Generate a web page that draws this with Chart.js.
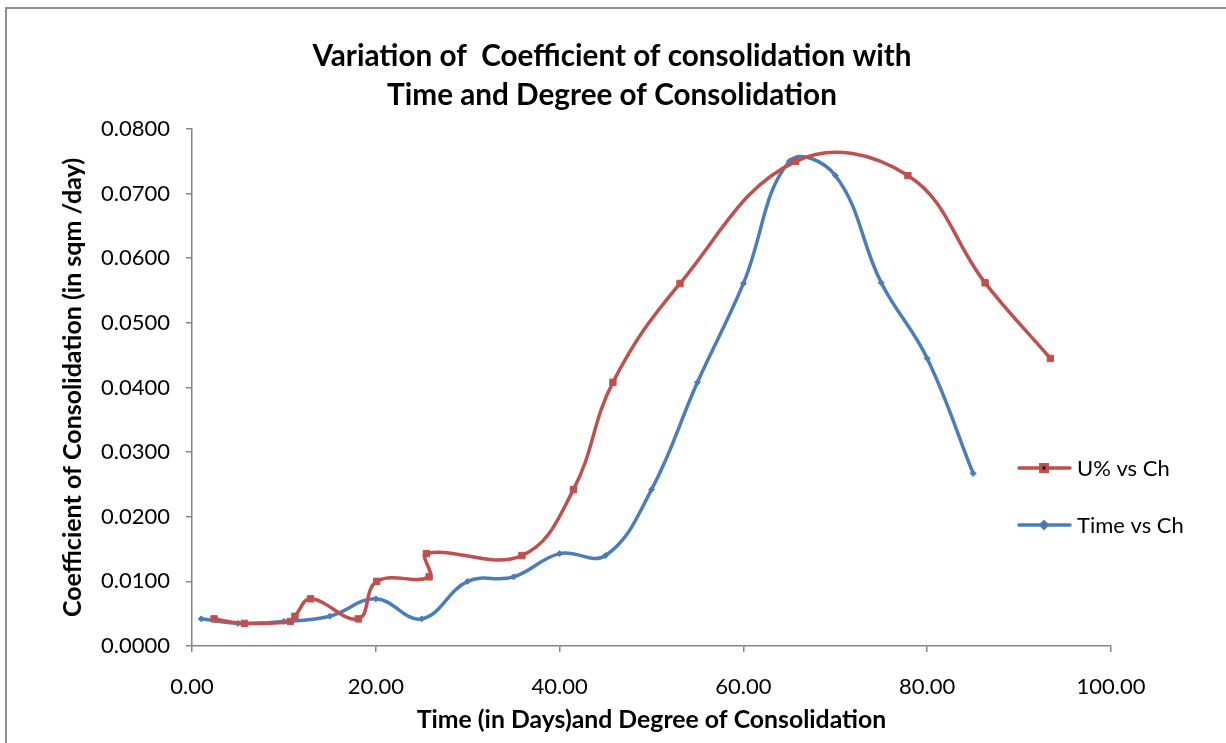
<!DOCTYPE html>
<html>
<head>
<meta charset="utf-8">
<script src="https://cdn.jsdelivr.net/npm/chart.js@4.4.1/dist/chart.umd.min.js"></script>
<style>
  html, body { margin: 0; padding: 0; background: #fff; overflow: hidden; }
  #wrap { position: relative; width: 1226px; height: 743px; }
  #frame { position: absolute; left: 5px; top: 7px; width: 1300px; height: 900px;
           border: 2px solid #8e8e8e; pointer-events: none; }
</style>
</head>
<body>
<div id="wrap">
  <canvas id="myChart" width="1226" height="743"></canvas>
  <div id="frame"></div>
</div>
<script>
// Time (days) for the blue series
let timeDays = [1, 5, 10, 15, 20, 25, 30, 35, 40, 45, 50, 55, 60, 65, 70, 75, 80, 85];

// Degree of consolidation U% for the red series
let uPercent = [2.4, 5.7, 10.7, 11.2, 12.9, 18.1, 20.1, 25.8, 25.5, 35.9, 41.5, 45.8, 53.1, 65.7, 77.9, 86.3, 93.4];

// Coefficient of consolidation Ch (sqm/day)
let chValues = [0.0042, 0.0035, 0.0038, 0.0046, 0.0073, 0.0042, 0.0100, 0.0107, 0.0143, 0.0140,
                0.0242, 0.0408, 0.0561, 0.0750, 0.0728, 0.0562, 0.0445, 0.0267];

let seriesNames = ['U% vs Ch', 'Time vs Ch'];

const RED = 'rgb(192, 80, 77)';
const BLUE = 'rgb(74, 126, 187)';
const AXIS = '#868686';
const FONT = 'Lato';

let redPoints = uPercent.map((u, i) => ({ x: u, y: chValues[i] }));
let bluePoints = timeDays.map((t, i) => ({ x: t, y: chValues[i] }));

// legend drawn like the excel one (line with a marker in the middle)
let sideLegend = {
    id: 'sideLegend',
    afterDraw(chart) {
        let ctx = chart.ctx;
        let rows = [468, 525];
        chart.data.datasets.forEach((ds, i) => {
            let y = rows[i];
            ctx.save();
            ctx.strokeStyle = ds.borderColor;
            ctx.lineWidth = ds.borderWidth;
            ctx.lineCap = 'round';
            ctx.beginPath();
            ctx.moveTo(1019, y);
            ctx.lineTo(1070, y);
            ctx.stroke();
            Chart.helpers.drawPoint(ctx, {
                pointStyle: ds.pointStyle,
                radius: ds.pointRadius,
                borderWidth: 1
            }, 1044, y);
            ctx.fillStyle = '#000';
            ctx.font = '22px ' + FONT;
            ctx.textBaseline = 'middle';
            ctx.fillText(ds.label, 1077, y + 1);
            ctx.restore();
        });
    }
};

let data = {
    datasets: [{
        label: seriesNames[0],
        data: redPoints,
        borderColor: RED,
        backgroundColor: RED,
        pointStyle: 'rect',
        pointRadius: 4.5,
        pointBorderWidth: 1,
        borderWidth: 3.5,
        tension: 0.4,
        showLine: true
    }, {
        label: seriesNames[1],
        data: bluePoints,
        borderColor: BLUE,
        backgroundColor: BLUE,
        pointStyle: 'rectRot',
        pointRadius: 3,
        pointBorderWidth: 1,
        borderWidth: 3.5,
        tension: 0.4,
        showLine: true
    }]
};

let config = {
    type: 'scatter',
    data: data,
    options: {
        responsive: false,
        animation: false,
        layout: { padding: { left: 61, right: 63, top: 0, bottom: 0 } },
        plugins: {
            legend: { display: false },
            tooltip: { enabled: false },
            title: {
                display: true,
                text: ['Variation of  Coefficient of consolidation with', 'Time and Degree of Consolidation'],
                color: '#000',
                font: { family: FONT, size: 29.7, weight: 'bold', lineHeight: 1.313 },
                padding: { top: 37, bottom: 14 }
            }
        },
        scales: {
            x: {
                type: 'linear',
                min: 0,
                max: 100,
                ticks: {
                    stepSize: 20,
                    color: '#000',
                    font: { family: FONT, size: 22 },
                    padding: 22,
                    callback: v => v.toFixed(2)
                },
                grid: { drawOnChartArea: false, tickLength: 6, color: AXIS, lineWidth: 1.5 },
                border: { color: AXIS, width: 1.5 },
                title: {
                    display: true,
                    text: 'Time (in Days)and Degree of Consolidation',
                    color: '#000',
                    font: { family: FONT, size: 24.8, weight: 'bold' },
                    padding: { top: 0, bottom: 8 }
                },
                afterFit: s => { s.height = 97; }
            },
            y: {
                type: 'linear',
                min: 0,
                max: 0.08,
                ticks: {
                    stepSize: 0.01,
                    color: '#000',
                    font: { family: FONT, size: 22 },
                    padding: 16,
                    callback: v => v.toFixed(4)
                },
                grid: { drawOnChartArea: false, tickLength: 6, color: AXIS, lineWidth: 1.5 },
                border: { color: AXIS, width: 1.5 },
                title: {
                    display: true,
                    text: 'Coefficient of Consolidation (in sqm /day)',
                    color: '#000',
                    font: { family: FONT, size: 25, weight: 'bold' },
                    padding: { top: -3, bottom: 0 }
                },
                afterFit: s => { s.width = 131; }
            },
            // empty spacer on the right, keeps the plot edge at 100 while the title stays centred
            spacer: {
                type: 'linear',
                position: 'right',
                min: 0,
                max: 1,
                grid: { display: false },
                border: { display: false },
                ticks: { display: false },
                afterFit: s => { s.width = 52; }
            }
        }
    },
    plugins: [sideLegend]
};

let myChart = new Chart(document.getElementById('myChart'), config);
</script>
</body>
</html>
